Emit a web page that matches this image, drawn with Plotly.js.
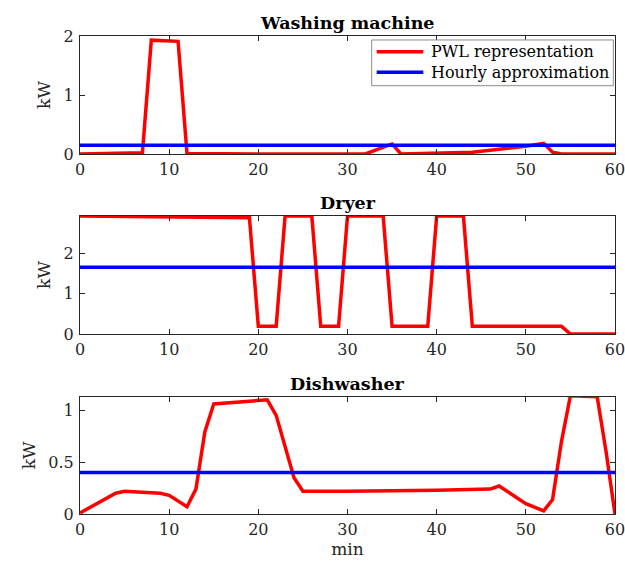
<!DOCTYPE html>
<html>
<head>
<meta charset="utf-8">
<script src="https://cdn.plot.ly/plotly-3.0.1.min.js"></script>
<style>html,body{margin:0;padding:0;background:#fff}#chart{width:625px;height:563px}</style>
</head>
<body>
<div id="chart"></div>
<script>
// Data
const titles = ["Washing machine", "Dryer", "Dishwasher"];
const seriesNames = ["PWL representation", "Hourly approximation"];
const washMin = [0, 7, 8, 11, 12, 20, 32, 35, 36, 40, 44, 50, 52, 53, 54, 60];
const washKW  = [0, 0.02, 1.93, 1.91, 0.01, 0, 0, 0.17, 0, 0.01, 0.03, 0.13, 0.18, 0.03, 0, 0];
const dryMin = [0, 10, 19, 20, 22, 23, 26, 27, 29, 30, 34, 35, 39, 40, 43, 44, 54, 55, 60];
const dryKW  = [2.93, 2.91, 2.89, 0.19, 0.19, 2.93, 2.93, 0.19, 0.19, 2.93, 2.93, 0.19, 0.19, 2.93, 2.93, 0.19, 0.19, 0, 0];
const dishMin = [0, 4, 5, 9, 10, 12, 13, 14, 15, 21, 22, 24, 25, 30, 40, 46, 47, 50, 52, 53, 54, 55, 58, 59, 60];
const dishKW  = [0.01, 0.2, 0.22, 0.2, 0.18, 0.07, 0.24, 0.79, 1.06, 1.1, 0.95, 0.35, 0.22, 0.22, 0.23, 0.24, 0.27, 0.1, 0.03, 0.14, 0.7, 1.14, 1.13, 0.6, 0];
const hourlyKW = [0.15, 1.655, 0.40];
const hourSpan = [0, 60];
const yMax = [2, 2.93, 1.13];
const yTicks = [[0, 1, 2], [0, 1, 2], [0, 0.5, 1]];
const xTicks = [0, 10, 20, 30, 40, 50, 60];

const series = [[washMin, washKW], [dryMin, dryKW], [dishMin, dishKW]];
const colors = ["#ff0000", "#0000ff"];
const FONT = "'DejaVu Serif', serif";
const TXT = "#262626";

const domainsY = [[0.7265, 0.936], [0.4067, 0.6163], [0.087, 0.2954]];
const traces = [];
const layout = {
  width: 625, height: 563,
  margin: {l: 0, r: 0, t: 0, b: 0},
  paper_bgcolor: "#fff", plot_bgcolor: "#fff",
  font: {family: FONT, size: 16, color: TXT},
  showlegend: false,
  annotations: [],
  shapes: []
};

for (let i = 0; i < 3; i++) {
  const n = i + 1;
  const xa = n === 1 ? "x" : "x" + n;
  const ya = n === 1 ? "y" : "y" + n;
  traces.push({x: series[i][0], y: series[i][1], xaxis: xa, yaxis: ya, mode: "lines",
    line: {color: colors[0], width: 3.5}, name: seriesNames[0], hoverinfo: "skip"});
  traces.push({x: hourSpan, y: [hourlyKW[i], hourlyKW[i]], xaxis: xa, yaxis: ya, mode: "lines",
    line: {color: colors[1], width: 3.5}, name: seriesNames[1], hoverinfo: "skip"});
  const axCommon = {showline: true, linecolor: TXT, linewidth: 1, mirror: "allticks",
    ticks: "inside", ticklen: 5, tickcolor: TXT, showgrid: false, zeroline: false,
    ticklabeloverflow: "allow",
    tickfont: {family: FONT, size: 16, color: TXT}};
  layout["xaxis" + (n === 1 ? "" : n)] = Object.assign({}, axCommon, {
    domain: [0.128, 0.984], range: [0, 60], tickvals: xTicks,
    anchor: ya, ticklabelstandoff: 1,
    title: i === 2 ? {text: "min", font: {family: FONT, size: 17, color: TXT}, standoff: 2} : undefined
  });
  layout["yaxis" + (n === 1 ? "" : n)] = Object.assign({}, axCommon, {
    domain: domainsY[i], range: [0, yMax[i]], tickvals: yTicks[i],
    anchor: xa, ticklabelstandoff: 2,
    title: {text: "kW", font: {family: FONT, size: 17, color: TXT}, standoff: 8}
  });
  layout.annotations.push({text: "<b>" + titles[i] + "</b>", xref: "paper", yref: "paper",
    x: 0.556, y: domainsY[i][1], yanchor: "bottom", xanchor: "center", yshift: 1, showarrow: false,
    font: {family: FONT, size: 17.5, color: "#000"}});
}

// Legend box (drawn manually to match the reference's compact MATLAB legend)
layout.shapes.push({type: "rect", xref: "paper", yref: "paper", x0: 0.5947, x1: 0.9813,
  y0: 0.8478, y1: 0.9290, line: {color: "#8c8c8c", width: 1}, fillcolor: "#fff", layer: "above"});
const legY = [0.9082, 0.8715];
for (let k = 0; k < 2; k++) {
  layout.shapes.push({type: "line", xref: "paper", yref: "paper", x0: 0.6027, x1: 0.6773,
    y0: legY[k], y1: legY[k], line: {color: colors[k], width: 3.5}, layer: "above"});
  layout.annotations.push({text: seriesNames[k], xref: "paper", yref: "paper", x: 0.6864,
    y: legY[k], xanchor: "left", yanchor: "middle", showarrow: false,
    font: {family: FONT, size: 16, color: "#000"}});
}

Plotly.newPlot("chart", traces, layout, {staticPlot: true, displayModeBar: false});
</script>
</body>
</html>
